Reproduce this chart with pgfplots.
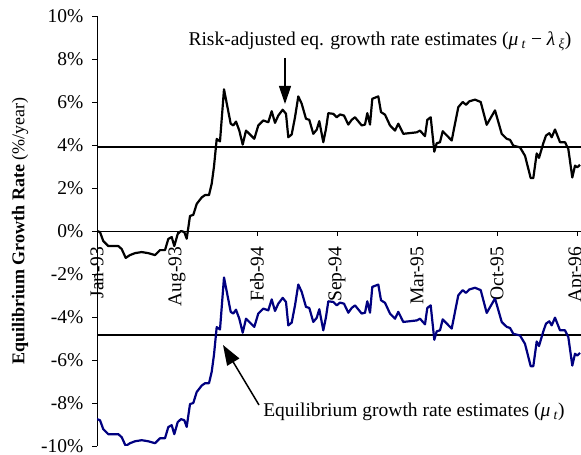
\documentclass[border=0pt]{standalone}
\usepackage{fontspec}
\setmainfont{Liberation Serif}
\usepackage{pgfplots}
\usepackage{pgfplotstable}
\pgfplotsset{compat=1.18}
\usetikzlibrary{arrows.meta}
\definecolor{navy}{RGB}{0,0,128}

% x = position along the time axis (1 unit = 1pt, a label every 80 units)
\pgfplotstableread{
x y
0 0.00
3 -0.05
6.3 -0.47
11.3 -0.70
21.3 -0.70
24.7 -0.84
28.7 -1.25
33 -1.12
38 -1.03
44.7 -0.98
51.3 -1.03
58 -1.12
63 -0.89
68 -0.89
71.3 -0.37
74.7 -0.28
77.3 -0.70
80.7 -0.14
84 0.00
87.3 -0.05
89.7 -0.36
93 0.70
96.3 0.75
99.7 1.26
104.7 1.56
108 1.67
112 1.67
114.7 2.20
117 3.00
119.7 4.28
123 4.17
127 6.59
133.7 4.99
136.3 4.91
139 5.09
142.3 4.67
145.7 4.02
149 4.67
153 4.49
157.3 4.29
161.3 4.91
166.3 5.14
171.3 5.06
174.7 5.57
178 5.03
181.3 5.37
185.7 5.64
189 5.45
191.3 4.36
194.7 4.49
198 5.29
201.3 6.26
204.7 5.92
209 5.22
212.3 5.17
216.3 4.52
219.7 4.71
222.3 5.11
226.3 4.13
229 4.75
231.3 5.48
236.3 5.45
239.7 5.29
243 5.42
247 5.37
251.3 4.95
254.7 5.17
258 5.29
264.7 4.91
268 4.95
270.3 5.48
273 4.95
275.3 6.15
281.3 6.26
284 5.53
288 5.41
293 4.91
298 4.67
301.3 4.99
306.3 4.52
319.7 4.59
323 4.67
328 4.41
330.3 5.17
333.7 5.29
337.3 3.69
339.7 4.08
343 4.13
345.7 4.64
354.7 4.21
358 4.99
361.3 5.76
365.7 6.00
369 5.87
372.3 6.03
378 6.11
383.7 6.00
389.7 4.94
398 5.61
404.7 4.52
409.7 4.29
413 4.24
416.3 3.97
423 3.89
428 3.50
433.7 2.46
436.3 2.46
439.7 3.61
442 3.40
446.3 4.08
449 4.44
452.3 4.55
454.7 4.36
458 4.72
463 4.13
468 4.13
471.3 3.82
475.3 2.49
478 3.04
480.3 2.96
483 3.08
}\riskadj

\pgfplotstableread{
x y
0 -8.75
3 -8.80
6.3 -9.22
11.3 -9.45
21.3 -9.45
24.7 -9.59
28.7 -10.00
33 -9.87
38 -9.78
44.7 -9.73
51.3 -9.78
58 -9.87
63 -9.64
68 -9.64
71.3 -9.12
74.7 -9.03
77.3 -9.45
80.7 -8.89
84 -8.75
87.3 -8.80
89.7 -9.11
93 -8.05
96.3 -8.00
99.7 -7.49
104.7 -7.19
108 -7.08
112 -7.08
114.7 -6.55
117 -5.75
119.7 -4.47
123 -4.58
127 -2.16
133.7 -3.76
136.3 -3.84
139 -3.66
142.3 -4.08
145.7 -4.73
149 -4.08
153 -4.26
157.3 -4.46
161.3 -3.84
166.3 -3.61
171.3 -3.69
174.7 -3.18
178 -3.72
181.3 -3.38
185.7 -3.11
189 -3.30
191.3 -4.39
194.7 -4.26
198 -3.46
201.3 -2.49
204.7 -2.83
209 -3.53
212.3 -3.58
216.3 -4.23
219.7 -4.04
222.3 -3.64
226.3 -4.62
229 -4.00
231.3 -3.27
236.3 -3.30
239.7 -3.46
243 -3.33
247 -3.38
251.3 -3.80
254.7 -3.58
258 -3.46
264.7 -3.84
268 -3.80
270.3 -3.27
273 -3.80
275.3 -2.60
281.3 -2.49
284 -3.22
288 -3.34
293 -3.84
298 -4.08
301.3 -3.76
306.3 -4.23
319.7 -4.16
323 -4.08
328 -4.34
330.3 -3.58
333.7 -3.46
337.3 -5.06
339.7 -4.67
343 -4.62
345.7 -4.11
354.7 -4.54
358 -3.76
361.3 -2.99
365.7 -2.75
369 -2.88
372.3 -2.72
378 -2.64
383.7 -2.75
389.7 -3.81
398 -3.14
404.7 -4.23
409.7 -4.46
413 -4.51
416.3 -4.78
423 -4.86
428 -5.25
433.7 -6.29
436.3 -6.29
439.7 -5.14
442 -5.35
446.3 -4.67
449 -4.31
452.3 -4.20
454.7 -4.39
458 -4.03
463 -4.62
468 -4.62
471.3 -4.93
475.3 -6.26
478 -5.71
480.3 -5.79
483 -5.67
}\equil

\begin{document}
\begin{tikzpicture}[x=1pt,y=1pt]
\useasboundingbox (0,0) rectangle (581,455);
\begin{axis}[
  at={(97pt,9pt)}, anchor=south west,
  scale only axis, width=484pt, height=430pt,
  xmin=0, xmax=484, ymin=-10, ymax=10,
  axis y line=left, axis x line=middle,
  axis line style={-, line width=0.8pt},
  hide obscured x ticks=false, hide obscured y ticks=false,
  ytick={-10,-8,...,10},
  yticklabel={\pgfmathprintnumber{\tick}\%},
  /pgf/number format/assume math mode=true,
  xtick={0,80,...,480},
  xticklabels={Jan-93,Aug-93,Feb-94,Sep-94,Mar-95,Oct-95,Apr-96},
  x tick label style={rotate=90, anchor=east},
  xticklabel shift=7pt, yticklabel shift=5pt,
  tick style={black, line width=0.8pt}, major tick length=5pt,
  ytick align=outside, xtick align=outside,
  tick label style={font=\fontsize{19.5}{22}\selectfont},
]
\addplot[black, line width=2pt] coordinates {(0,3.9) (484,3.9)};
\addplot[black, line width=2pt] coordinates {(0,-4.85) (484,-4.85)};
\addplot[black, line width=2.2pt, line join=round] table[x=x,y=y] {\riskadj};
\addplot[navy, line width=2.2pt, line join=round] table[x=x,y=y] {\equil};
\end{axis}
\node[rotate=90, font=\fontsize{18}{21}\selectfont] at (20,224) {\textbf{Equilibrium Growth Rate} (\%/year)};
\node[font=\fontsize{19.5}{22}\selectfont] at (380,414) {Risk-adjusted eq. growth rate estimates (\textit{μ}\,\textsubscript{\textit{t}} − \textit{λ}\,\textsubscript{\textit{ξ}})};
\draw[line width=1.2pt, -{Triangle[width=12pt,length=18pt]}] (285,397) -- (285,351);
\node[font=\fontsize{19.5}{22}\selectfont] at (414,43) {Equilibrium growth rate estimates (\textit{μ}\,\textsubscript{\textit{t}})};
\draw[line width=1.5pt, -{Triangle[width=14pt,length=20pt]}] (259,50) -- (223,110);
\end{tikzpicture}
\end{document}
